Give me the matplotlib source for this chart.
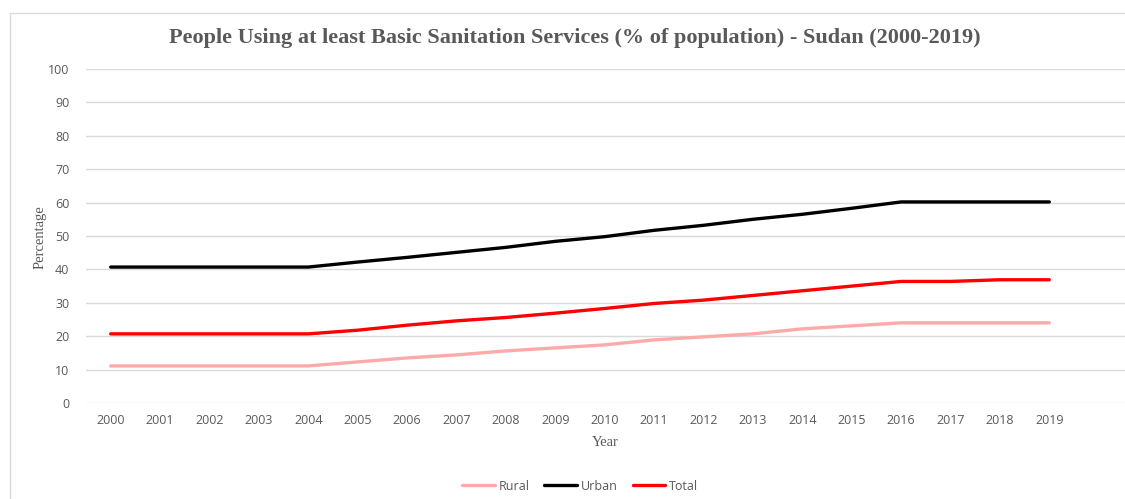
import matplotlib
matplotlib.use("Agg")
import matplotlib.pyplot as plt
from matplotlib.patches import Rectangle

years = [str(y) for y in range(2000, 2020)]
rural = [11.1, 11.1, 11.1, 11.1, 11.1, 12.3, 13.5, 14.4, 15.6, 16.5,
         17.4, 18.9, 19.8, 20.7, 22.2, 23.1, 24.0, 24.0, 24.0, 24.0]
urban = [40.7, 40.7, 40.7, 40.7, 40.7, 42.2, 43.6, 45.1, 46.6, 48.4,
         49.8, 51.7, 53.2, 55.0, 56.5, 58.3, 60.2, 60.2, 60.2, 60.2]
total = [20.7, 20.7, 20.7, 20.7, 20.7, 21.8, 23.3, 24.6, 25.6, 26.9,
         28.3, 29.8, 30.8, 32.2, 33.6, 35.0, 36.4, 36.4, 36.9, 36.9]
yticks = list(range(0, 101, 10))

W, H = 1125, 499
fig = plt.figure(figsize=(W / 100, H / 100), dpi=100)

# outer chart border
fig.patches.append(Rectangle((10 / W, -0.1), 1.2, (H - 13) / H + 0.1,
                             transform=fig.transFigure, fill=False,
                             edgecolor="#d9d9d9", linewidth=1.0))

ax = fig.add_axes([86 / W, (H - 403) / H, 1 - 86 / W, (403 - 69) / H])
x = list(range(len(years)))
ax.plot(x, rural, color="#ffaaaa", lw=2.4, label="Rural", solid_capstyle="round")
ax.plot(x, urban, color="#000000", lw=2.4, label="Urban", solid_capstyle="round")
ax.plot(x, total, color="#ff0000", lw=2.4, label="Total", solid_capstyle="round")

step = 49.4
ax.set_xlim(-0.5, (W - 86) / step - 0.5)
ax.set_ylim(0, 100)
ax.set_yticks(yticks)
ax.set_yticklabels([str(t) for t in yticks])
ax.set_xticks(x)
ax.set_xticklabels(years)
ax.yaxis.grid(True, color="#d9d9d9", lw=1.0)
ax.set_axisbelow(True)
for s in ax.spines.values():
    s.set_visible(False)
ax.tick_params(axis="both", length=0, colors="#595959", labelsize=9)
ax.tick_params(axis="y", pad=12)
ax.tick_params(axis="x", pad=8)
for lab in ax.get_xticklabels() + ax.get_yticklabels():
    lab.set_family("Open Sans")

fig.text(575 / W, 1 - 38 / H,
         "People Using at least Basic Sanitation Services (% of population) - Sudan (2000-2019)",
         ha="center", va="center", family="Liberation Serif", fontweight="bold",
         fontsize=16, color="#595959")
fig.text(605 / W, 1 - 443 / H, "Year", ha="center", va="center",
         family="Liberation Serif", fontsize=10.5, color="#595959")
fig.text(40 / W, 1 - 237 / H, "Percentage", ha="center", va="center", rotation=90,
         family="Liberation Serif", fontsize=10.5, color="#595959")

leg = fig.legend(loc="center", bbox_to_anchor=(580 / W, 1 - 486 / H), ncol=3,
                 frameon=False, handlelength=2.6, columnspacing=1.2,
                 handletextpad=0.3, prop={"family": "Open Sans", "size": 9})
for t in leg.get_texts():
    t.set_color("#595959")

fig.savefig("out.png", dpi=100)
